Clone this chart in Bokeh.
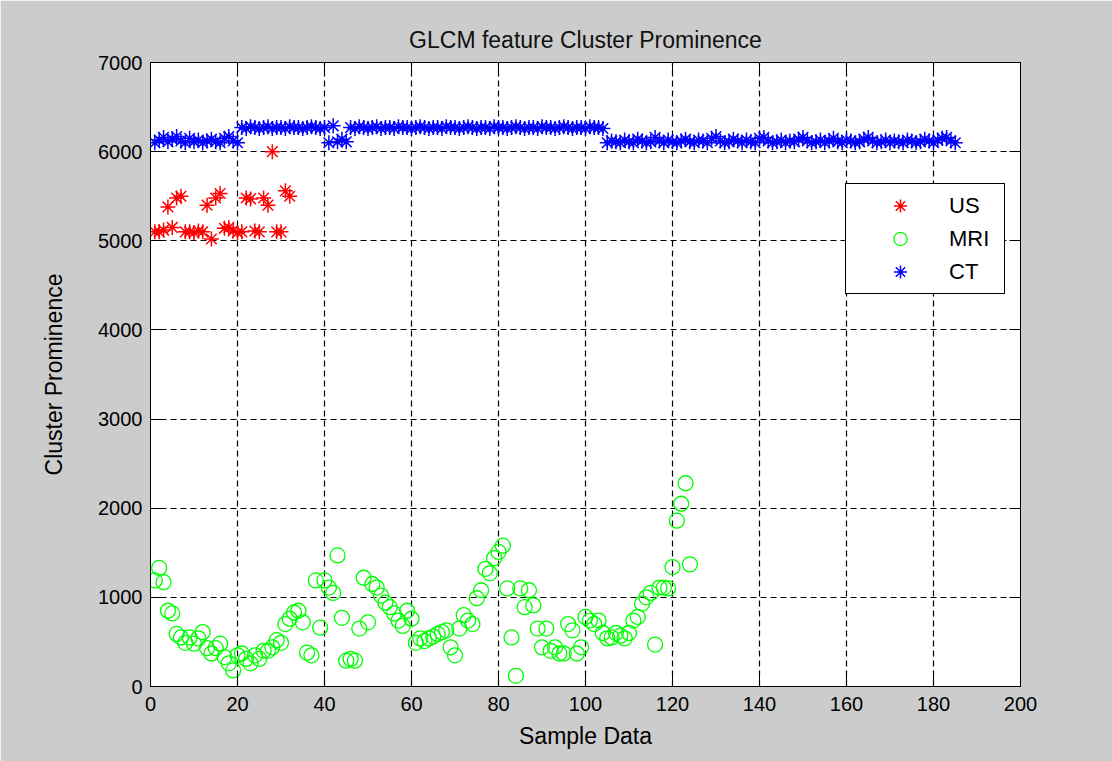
from bokeh.plotting import figure
from bokeh.models import Range1d, FixedTicker, LinearAxis, Legend, LegendItem, ColumnDataSource
from bokeh.embed import file_html
from bokeh.resources import INLINE

title_text = "GLCM feature Cluster Prominence"
x_label = "Sample Data"
y_label = "Cluster Prominence"
x_ticks = [0, 20, 40, 60, 80, 100, 120, 140, 160, 180, 200]
y_ticks = [0, 1000, 2000, 3000, 4000, 5000, 6000, 7000]
series_names = ["US", "MRI", "CT"]

us_values = [5100, 5100, 5120, 5380, 5150, 5480, 5500, 5100, 5100, 5090,
             5110, 5100, 5400, 5020, 5480, 5530, 5140, 5150, 5110, 5090,
             5100, 5480, 5470, 5110, 5100, 5480, 5400, 6000, 5100, 5100,
             5560, 5500]

mri_values = [1190, 1330, 1170, 850, 820, 590, 550, 490, 550, 480,
              540, 610, 430, 370, 430, 480, 330, 260, 180, 350,
              370, 310, 260, 350, 310, 400, 400, 440, 520, 490,
              700, 760, 830, 850, 720, 380, 350, 1190, 660, 1190,
              1110, 1050, 1470, 770, 290, 310, 290, 650, 1220, 720,
              1150, 1110, 1020, 940, 890, 820, 740, 680, 850, 760,
              490, 540, 510, 540, 560, 590, 610, 630, 440, 350,
              650, 800, 740, 700, 990, 1080, 1320, 1270, 1440, 1510,
              1580, 1100, 550, 120, 1100, 890, 1080, 910, 650, 440,
              650, 400, 440, 370, 370, 700, 630, 370, 440, 780,
              740, 700, 740, 600, 540, 550, 600, 570, 540, 600,
              740, 780, 930, 1000, 1050, 470, 1110, 1110, 1100, 1340,
              1860, 2050, 2280, 1370]

ct_values = [6100, 6130, 6160, 6110, 6140, 6170, 6120, 6100, 6150, 6110,
             6130, 6100, 6120, 6140, 6110, 6100, 6150, 6170, 6120, 6100,
             6270, 6260, 6280, 6270, 6260, 6270, 6280, 6260, 6270, 6270,
             6260, 6280, 6270, 6270, 6260, 6270, 6280, 6270, 6260, 6270,
             6100, 6290, 6110, 6140, 6110, 6270, 6260, 6280, 6270, 6260,
             6270, 6280, 6260, 6270, 6270, 6260, 6280, 6270, 6270, 6260,
             6270, 6280, 6270, 6260, 6270, 6270, 6260, 6280, 6270, 6270,
             6260, 6270, 6280, 6270, 6260, 6270, 6270, 6260, 6280, 6270,
             6270, 6260, 6270, 6280, 6270, 6260, 6270, 6270, 6260, 6280,
             6270, 6270, 6260, 6270, 6280, 6270, 6260, 6270, 6270, 6260,
             6280, 6270, 6270, 6260, 6100, 6120, 6110, 6100, 6130, 6110,
             6100, 6140, 6120, 6100, 6110, 6160, 6120, 6100, 6130, 6110,
             6100, 6120, 6140, 6110, 6100, 6130, 6120, 6100, 6150, 6170,
             6120, 6100, 6110, 6140, 6120, 6100, 6130, 6110, 6100, 6150,
             6160, 6120, 6100, 6110, 6130, 6100, 6120, 6110, 6140, 6160,
             6120, 6100, 6110, 6130, 6100, 6120, 6150, 6110, 6100, 6130,
             6120, 6100, 6110, 6140, 6160, 6120, 6100, 6110, 6130, 6100,
             6120, 6110, 6100, 6130, 6120, 6100, 6110, 6140, 6120, 6100,
             6130, 6150, 6160, 6120, 6100]

FONT = "Liberation Sans"

p = figure(width=1112, height=761, output_backend="svg", toolbar_location=None,
           x_range=Range1d(0, 200), y_range=Range1d(0, 7000),
           min_border_left=150, min_border_right=92, min_border_top=62, min_border_bottom=75,
           background_fill_color="white", border_fill_color="#cccccc",
           outline_line_color="black", outline_line_width=1, title=title_text)

p.title.align = "center"
p.title.text_font = FONT
p.title.text_font_size = "23px"
p.title.text_font_style = "normal"
p.title.text_color = "#111111"
p.title.standoff = 19

for ax in (p.xaxis[0], p.yaxis[0]):
    ax.major_tick_in = 11
    ax.major_tick_out = 0
    ax.minor_tick_in = 0
    ax.minor_tick_out = 0
    ax.major_label_text_font = FONT
    ax.major_label_text_font_size = "20px"
    ax.major_label_text_color = "black"
    ax.axis_label_text_font = FONT
    ax.axis_label_text_font_size = "23px"
    ax.axis_label_text_font_style = "normal"
    ax.axis_label_text_color = "black"
    ax.axis_line_color = "black"
    ax.major_tick_line_color = "black"

p.xaxis.ticker = FixedTicker(ticks=x_ticks)
p.yaxis.ticker = FixedTicker(ticks=y_ticks)
p.xaxis.axis_label = x_label
p.yaxis.axis_label = y_label
p.xaxis.major_label_standoff = 10
p.yaxis.major_label_standoff = 8
p.xaxis.axis_label_standoff = 9
p.yaxis.axis_label_standoff = 28

for loc, ticks in (("right", y_ticks), ("above", x_ticks)):
    extra = LinearAxis(ticker=FixedTicker(ticks=ticks), major_tick_in=11, major_tick_out=0,
                       minor_tick_in=0, minor_tick_out=0, major_label_text_font_size="0px",
                       major_label_text_alpha=0, major_label_standoff=0,
                       axis_line_color="black", major_tick_line_color="black")
    p.add_layout(extra, loc)

p.xgrid[0].ticker = FixedTicker(ticks=x_ticks)
p.ygrid[0].ticker = FixedTicker(ticks=y_ticks)
for g in (p.xgrid[0], p.ygrid[0]):
    g.grid_line_color = "black"
    g.grid_line_dash = "6 4"
    g.grid_line_width = 1.2
    g.grid_line_alpha = 1

us_src = ColumnDataSource(dict(x=list(range(1, len(us_values) + 1)), y=us_values))
mri_src = ColumnDataSource(dict(x=list(range(1, len(mri_values) + 1)), y=mri_values))
ct_src = ColumnDataSource(dict(x=list(range(1, len(ct_values) + 1)), y=ct_values))

r_us = p.scatter("x", "y", source=us_src, marker="asterisk", size=15,
                 line_color="#ff0000", line_width=1.5)
r_mri = p.scatter("x", "y", source=mri_src, marker="circle", size=15,
                  line_color="#00ff00", fill_color=None, line_width=1.3)
r_ct = p.scatter("x", "y", source=ct_src, marker="asterisk", size=15,
                 line_color="#0000ff", line_width=1.5)

legend = Legend(items=[LegendItem(label=series_names[0], renderers=[r_us]),
                       LegendItem(label=series_names[1], renderers=[r_mri]),
                       LegendItem(label=series_names[2], renderers=[r_ct])],
                location=(695, 392), glyph_width=98, glyph_height=33, label_height=33,
                label_width=50, spacing=0, padding=5, label_standoff=0,
                border_line_color="black", border_line_width=1.2, border_line_alpha=1,
                background_fill_color="white", background_fill_alpha=1,
                label_text_font=FONT, label_text_font_size="22px", label_text_color="black")
p.add_layout(legend)

open("out.html", "w").write(file_html(p, INLINE))
